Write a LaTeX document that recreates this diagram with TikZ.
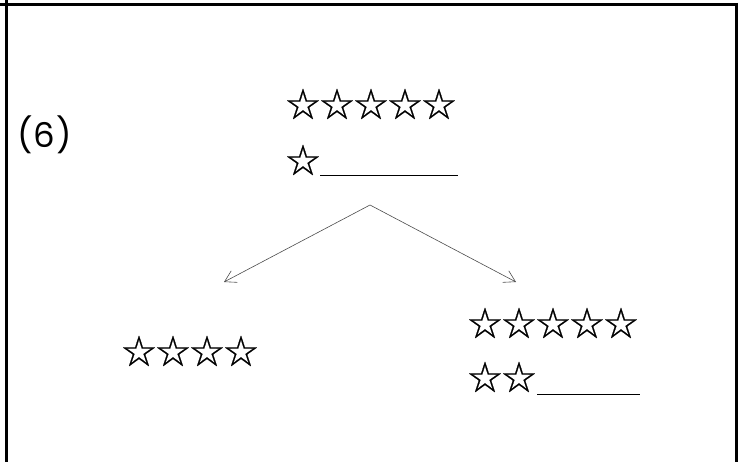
\documentclass[tikz,border=0pt]{standalone}
\usepackage{fontspec}
\newfontfamily\cjk[FakeBold=0.6]{Noto Sans CJK SC}
\newfontfamily\geo{Poppins}
\usetikzlibrary{arrows.meta}
\tikzset{
  starrow/.style={inner sep=0pt, outer sep=0pt, anchor=west, font=\cjk\fontsize{34}{34}\selectfont},
  blank/.style={line width=1pt},
  border/.style={line width=3pt},
  branch/.style={draw=black!70, line width=0.6pt, -{Straight Barb[length=11pt,width=13pt,line width=0.6pt]}}
}
\begin{document}
\begin{tikzpicture}[x=1pt,y=-1pt]
\useasboundingbox (0,0) rectangle (744,462);
% frame
\draw[border] (0,4.5) -- (738,4.5);
\draw[border] (6.5,0) -- (6.5,462);
\draw[border] (736.5,3) -- (736.5,462);
% label
\node[inner sep=0pt, anchor=west, font=\geo\fontsize{34}{35}\selectfont] (lab) at (17,135) {(\kern1pt6\kern1pt)};
% top group
\node[starrow] (t1) at (286,104) {☆☆☆☆☆};
\node[starrow] (t2) at (286,160) {☆};
\draw[blank] (320,176) -- (458,176);
% bottom left
\node[starrow] (l1) at (122,351) {☆☆☆☆};
% bottom right
\node[starrow] (r1) at (468,323) {☆☆☆☆☆};
\node[starrow] (r2) at (468,377) {☆☆};
\draw[blank] (537,394) -- (640,394);
% arrows
\coordinate (apex) at (370,205);
\coordinate (lt) at (224,282);
\coordinate (rt) at (516,282);
\draw[branch] (apex) -- (lt);
\draw[branch] (apex) -- (rt);
\end{tikzpicture}
\end{document}
